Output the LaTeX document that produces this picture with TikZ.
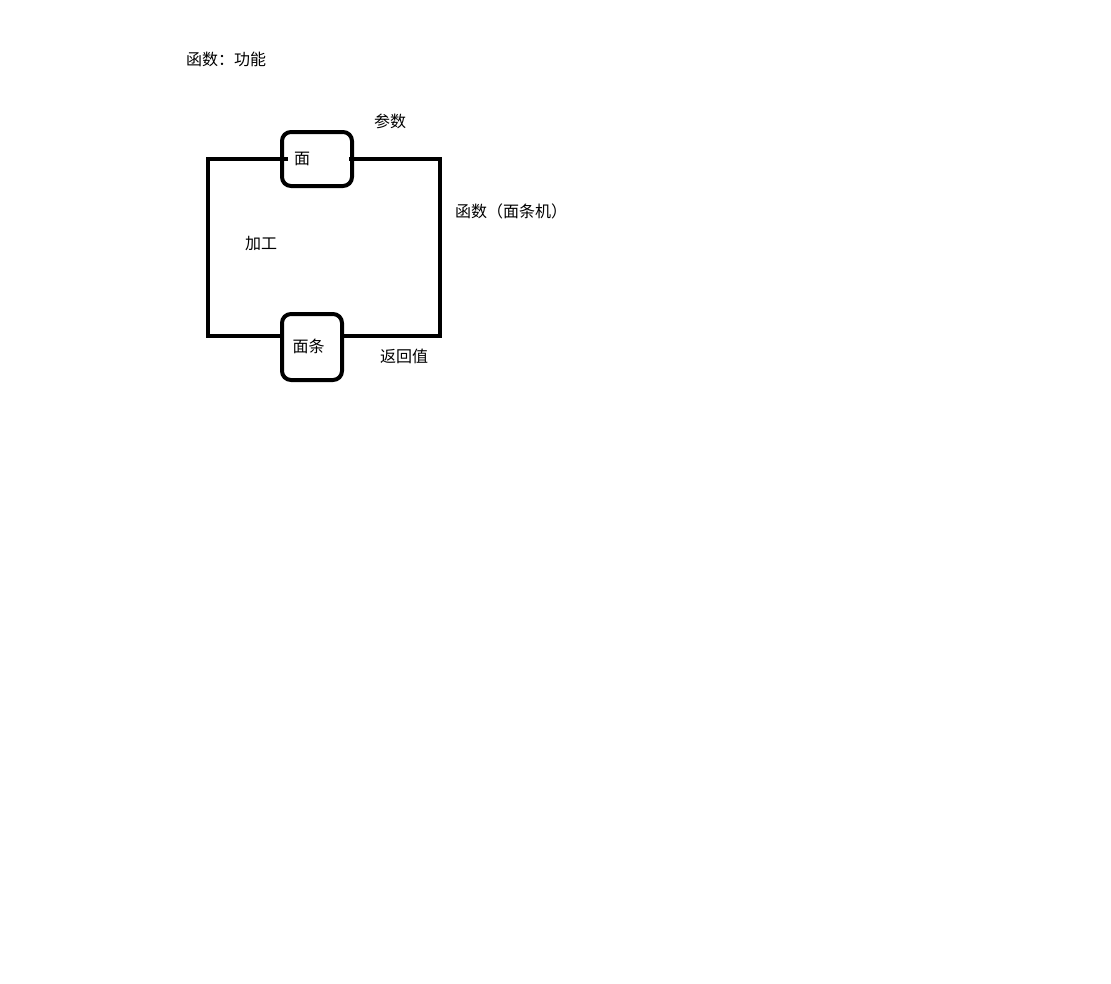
\documentclass[tikz,border=0pt]{standalone}
\usepackage{fontspec}
\newfontfamily\cjk{Noto Sans CJK SC}
\begin{document}
\begin{tikzpicture}[x=1pt,y=-1pt,
  every node/.style={font=\cjk\fontsize{16}{16}\selectfont, text height=1em, text depth=0pt},
  lbl/.style={anchor=west, inner sep=0pt},
  boxnode/.style={draw, line width=4pt, rounded corners=9pt, inner ysep=0pt, align=left},
  wire/.style={line width=4pt}]
\useasboundingbox (0,0) rectangle (1111,983);
\node[lbl] (title) at (186,60.5) {函数：功能};
\node[lbl] (param) at (374,122.5) {参数};
\node[lbl] (func) at (455,212) {函数（面条机）};
\node[lbl] (proc) at (245,244.5) {加工};
\node[lbl] (ret) at (380,357.5) {返回值};
\node[boxnode, minimum width=70pt, minimum height=54pt, inner xsep=12pt, text width=46pt] (mian) at (317,159) {面};
\node[boxnode, minimum width=60pt, minimum height=66pt, inner xsep=10.5pt, text width=39pt] (miantiao) at (312,347) {面条};
\coordinate (bl) at (208,336);
\coordinate (br) at (440,336);
\draw[wire] ([xshift=8pt]mian.west) -| (bl) -- (bl -| miantiao.west);
\draw[wire] (bl -| miantiao.east) -- (br) |- ([xshift=-5pt]mian.east);
\end{tikzpicture}
\end{document}
